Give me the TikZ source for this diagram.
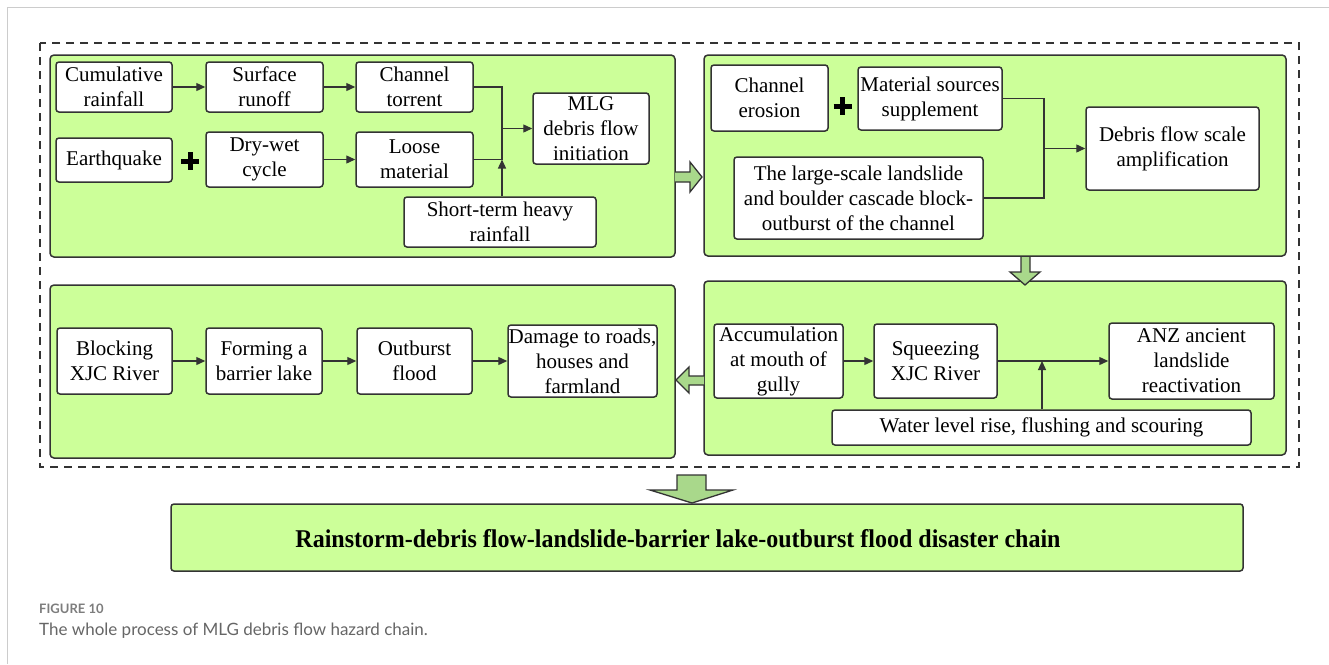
\documentclass[tikz,border=0pt]{standalone}
\usepackage{fontspec}
\setmainfont{Liberation Serif}
\newfontfamily\capfont{Lato}
\usetikzlibrary{arrows.meta}
\definecolor{pgreen}{HTML}{CCFF99}
\definecolor{agreen}{HTML}{A9D88B}
\definecolor{edge}{HTML}{333333}
\definecolor{capgray}{HTML}{666666}
\tikzset{
  panel/.style={draw=edge, fill=pgreen, line width=1.5pt, rounded corners=4pt, inner sep=0pt},
  boxn/.style={draw=edge, fill=white, line width=1.5pt, rounded corners=3pt, inner sep=0pt},
  txt/.style={align=center, inner sep=0pt, font=\fontsize{21}{25}\selectfont},
  conn/.style={draw=edge, line width=1.3pt},
  arr/.style={conn, -{Triangle[length=9pt,width=8pt]}},
  blockarrow/.style={draw=edge, fill=agreen, line width=1.3pt, line join=miter},
  plussign/.style={line width=5pt, draw=black},
}
\newcommand\mybox[6]{%
  \node[boxn, minimum width=#4pt, minimum height=#5pt] (#1) at (#2,#3) {};
  \node[txt] (#1t) at (#1.center) {#6};}
\newcommand\plusat[2]{%
  \draw[plussign] (#1-9,#2) -- (#1+9,#2);
  \draw[plussign] (#1,#2-9) -- (#1,#2+9);}
\begin{document}
\begin{tikzpicture}[x=1pt,y=-1pt]
\useasboundingbox (0,0) rectangle (1329,664);
\fill[white] (0,0) rectangle (1329,664);
\draw[black!20, line width=1pt] (7,664) -- (7,7) -- (1329,7);

% outer dashed frame
\draw[edge, line width=1.5pt, dash pattern=on 8pt off 6pt] (40,43) rectangle (1299,467);

% panels
\node[panel, minimum width=625pt, minimum height=202pt] (p1) at (362.5,156) {};
\node[panel, minimum width=582pt, minimum height=201pt] (p2) at (995,155.5) {};
\node[panel, minimum width=625pt, minimum height=173pt] (p3) at (362.5,371.5) {};
\node[panel, minimum width=582pt, minimum height=174pt] (p4) at (995,368) {};

% panel 1
\mybox{cum}{114}{87}{116}{50}{Cumulative\\rainfall}
\mybox{sur}{264.5}{87}{117}{50}{Surface\\runoff}
\mybox{cha}{414.5}{87}{117}{50}{Channel\\torrent}
\mybox{mlg}{591}{128.5}{116}{71}{MLG\\debris flow\\initiation}
\mybox{ear}{114}{160}{116}{44}{Earthquake}
\mybox{dry}{264.5}{159.5}{117}{55}{Dry-wet\\cycle}
\mybox{loo}{414.5}{159.5}{117}{55}{Loose\\material}
\mybox{sho}{500}{222}{192}{50}{Short-term heavy\\rainfall}
\plusat{190}{161}
\coordinate (m1) at (502,128.5);
\draw[arr] (cum.east) -- (sur.west);
\draw[arr] (sur.east) -- (cha.west);
\draw[arr] (dry.east) -- (loo.west);
\draw[conn] (cha.east) -- (cha.east -| m1) -- (loo.east -| m1) -- (loo.east);
\draw[arr] (m1) -- (mlg.west);
\draw[arr] (sho.north -| m1) -- (loo.east -| m1);

% panel 2
\mybox{ero}{769.5}{98}{117}{66}{Channel\\erosion}
\mybox{mat}{930}{98.5}{144}{63}{Material sources\\supplement}
\mybox{lsl}{858.5}{198}{249}{82}{The large-scale landslide\\and boulder cascade block-\\outburst of the channel}
\mybox{amp}{1172.5}{148.5}{173}{83}{Debris flow scale\\amplification}
\plusat{842.5}{106}
\coordinate (m2) at (1044,148.5);
\draw[conn] (mat.east) -- (mat.east -| m2) -- (lsl.east -| m2) -- (lsl.east);
\draw[arr] (m2) -- (amp.west);

% panel 3
\mybox{blk}{114.5}{361}{115}{66}{Blocking\\XJC River}
\mybox{frm}{264}{361}{116}{66}{Forming a\\barrier lake}
\mybox{out}{414.5}{361}{115}{66}{Outburst\\flood}
\mybox{dam}{582.5}{361}{149}{72}{Damage to roads,\\houses and\\farmland}
\draw[arr] (blk.east) -- (frm.west);
\draw[arr] (frm.east) -- (out.west);
\draw[arr] (out.east) -- (dam.west);

% panel 4
\mybox{acc}{778.5}{361}{129}{74}{Accumulation\\at mouth of\\gully}
\mybox{sqz}{935.5}{361}{123}{74}{Squeezing\\XJC River}
\mybox{anz}{1191.5}{361}{165}{76}{ANZ ancient\\landslide\\reactivation}
\mybox{wat}{1041.5}{427.5}{419}{35}{Water level rise, flushing and scouring}
\coordinate (m4) at (1042,361);
\draw[arr] (acc.east) -- (sqz.west);
\draw[arr] (sqz.east) -- (anz.west);
\draw[arr] (wat.north -| m4) -- (m4);

% block arrows between panels
\draw[blockarrow] (675,172) -- (690,172) -- (690,162) -- (702,177) -- (690,192) -- (690,182) -- (675,182);
\draw[blockarrow] (1021,257) -- (1021,272) -- (1010,272) -- (1025,285) -- (1040,272) -- (1030,272) -- (1030,257);
\draw[blockarrow] (704,376) -- (689,376) -- (689,367) -- (676,380) -- (689,393) -- (689,385) -- (704,385);

% result
\node[panel, rounded corners=3pt, minimum width=1072pt, minimum height=67pt] (res) at (707,537.5) {};
\node[inner sep=0pt] (rest) at (678,539) {\resizebox{765pt}{18pt}{\bfseries Rainstorm-debris flow-landslide-barrier lake-outburst flood disaster chain}};
\draw[blockarrow] (677,475) -- (706,475) -- (706,490) -- (733,490) -- (692,503) -- (650,490) -- (677,490) -- cycle;

% caption
\node[anchor=base west, inner sep=0pt, text=capgray!85, font=\capfont\bfseries\fontsize{13}{15}\selectfont] (fig) at (39,613) {FIGURE 10};
\node[anchor=base west, inner sep=0pt, text=capgray, font=\capfont\fontsize{17}{20}\selectfont] (cap) at (39,635) {The whole process of MLG debris flow hazard chain.};
\end{tikzpicture}
\end{document}
